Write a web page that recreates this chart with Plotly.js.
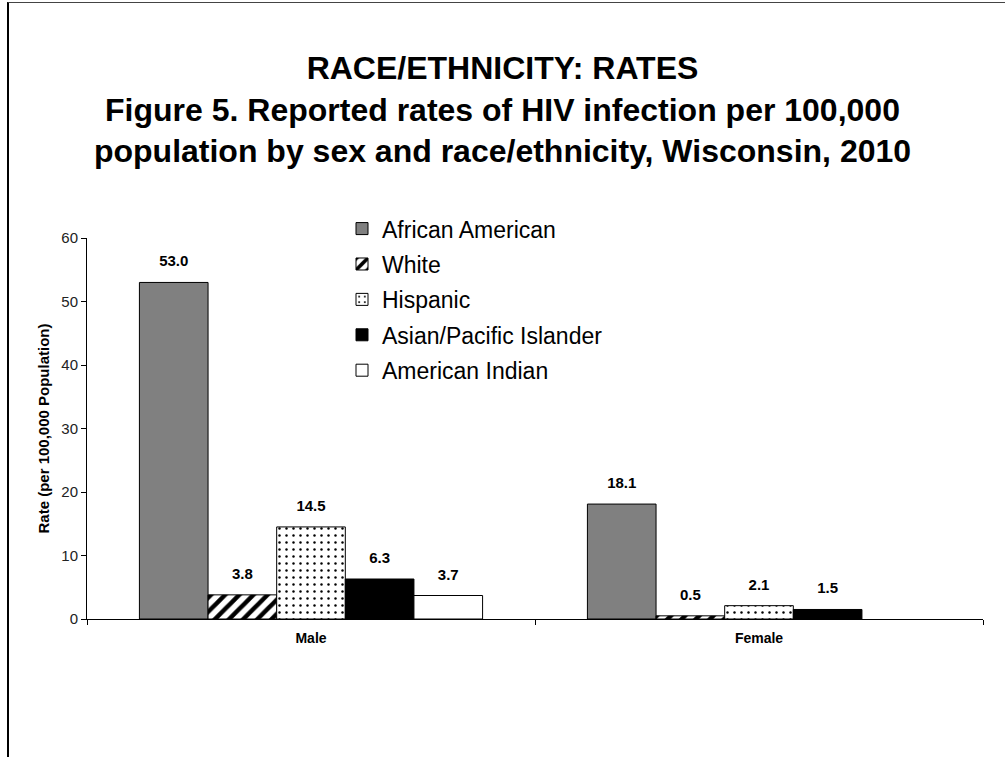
<!DOCTYPE html>
<html>
<head>
<meta charset="utf-8">
<script src="https://cdn.plot.ly/plotly-3.0.1.min.js"></script>
<style>
  html, body { margin: 0; padding: 0; background: #fff; }
  #frame { position: absolute; left: 7px; top: 2px; width: 1100px; height: 800px;
           border-left: 2px solid #000; border-top: 1px solid #444; pointer-events: none; z-index: 5; }
  #chart { position: absolute; left: 0; top: 0; width: 1005px; height: 757px; }
</style>
</head>
<body>
<div id="chart"></div>
<div id="frame"></div>
<script>
// ---- data ----
const categories = ["Male", "Female"];
const seriesNames = ["African American", "White", "Hispanic", "Asian/Pacific Islander", "American Indian"];
const africanAmerican = [53.0, 18.1];
const white = [3.8, 0.5];
const hispanic = [14.5, 2.1];
const asianPacific = [6.3, 1.5];
const americanIndian = [3.7, null];
const yTickValues = [0, 10, 20, 30, 40, 50, 60];

const seriesValues = [africanAmerican, white, hispanic, asianPacific, americanIndian];
const FONT = "Arial, Liberation Sans, sans-serif";

const markers = [
  { color: "#808080", line: { color: "#000", width: 1 } },
  { color: "#fff", line: { color: "#000", width: 1 },
    pattern: { shape: "/", bgcolor: "#fff", fgcolor: "#000", size: 10, solidity: 0.45 } },
  { color: "#fff", line: { color: "#000", width: 1 },
    pattern: { shape: ".", bgcolor: "#fff", fgcolor: "#000", size: 7, solidity: 0.1 } },
  { color: "#000", line: { color: "#000", width: 1 } },
  { color: "#fff", line: { color: "#000", width: 1 } }
];

const traces = [];
seriesNames.forEach((name, i) => {
  traces.push({
    type: "bar",
    name: name,
    x: categories,
    y: seriesValues[i],
    marker: markers[i],
    legendgroup: "g" + i,
    hoverinfo: "x+y+name"
  });
});
// value labels, grouped like the bars
seriesNames.forEach((name, i) => {
  traces.push({
    type: "scatter",
    mode: "markers+text",
    x: categories,
    y: seriesValues[i],
    text: seriesValues[i].map(v => v == null ? "" : v.toFixed(1)),
    textposition: "top center",
    textfont: { family: FONT, size: 15, color: "#000", weight: "bold" },
    marker: { size: 18, opacity: 0 },
    showlegend: false,
    hoverinfo: "skip",
    cliponaxis: false
  });
});

const layout = {
  width: 1005,
  height: 757,
  margin: { l: 87, r: 22, t: 238, b: 138 },
  paper_bgcolor: "#fff",
  plot_bgcolor: "#fff",
  font: { family: FONT, color: "#000" },
  barmode: "group",
  bargap: 0.234,
  bargroupgap: 0,
  scattermode: "group",
  scattergap: 0.234,
  showlegend: true,
  title: {
    text: "<b>RACE/ETHNICITY: RATES<br>Figure 5. Reported rates of HIV infection per 100,000<br>population by sex and race/ethnicity, Wisconsin, 2010</b>",
    font: { family: FONT, size: 32, color: "#000" },
    x: 0.5, xref: "container", xanchor: "center",
    y: 1 - 79 / 757, yref: "container", yanchor: "top"
  },
  legend: {
    x: 0.2846, y: 1.081, xanchor: "left", yanchor: "top",
    font: { family: FONT, size: 23, color: "#000" },
    bgcolor: "rgba(0,0,0,0)",
    tracegroupgap: 2.5,
    itemwidth: 30
  },
  xaxis: {
    type: "category",
    showline: true, linecolor: "#000", linewidth: 1,
    ticks: "outside", tickson: "boundaries", ticklen: 5, tickcolor: "#000",
    ticklabelstandoff: 6,
    tickfont: { family: FONT, size: 14, color: "#000", weight: "bold" },
    showgrid: false, zeroline: false
  },
  yaxis: {
    range: [0, 60],
    tickvals: yTickValues,
    showline: true, linecolor: "#000", linewidth: 1,
    ticks: "outside", ticklen: 5, tickcolor: "#000",
    tickfont: { family: FONT, size: 15, color: "#222" },
    showgrid: false, zeroline: false,
    title: {
      text: "<b>Rate (per 100,000 Population)</b>",
      font: { family: FONT, size: 15, color: "#000" },
      standoff: 8
    }
  }
};

Plotly.newPlot("chart", traces, layout, { displayModeBar: false, responsive: false });
</script>
</body>
</html>
